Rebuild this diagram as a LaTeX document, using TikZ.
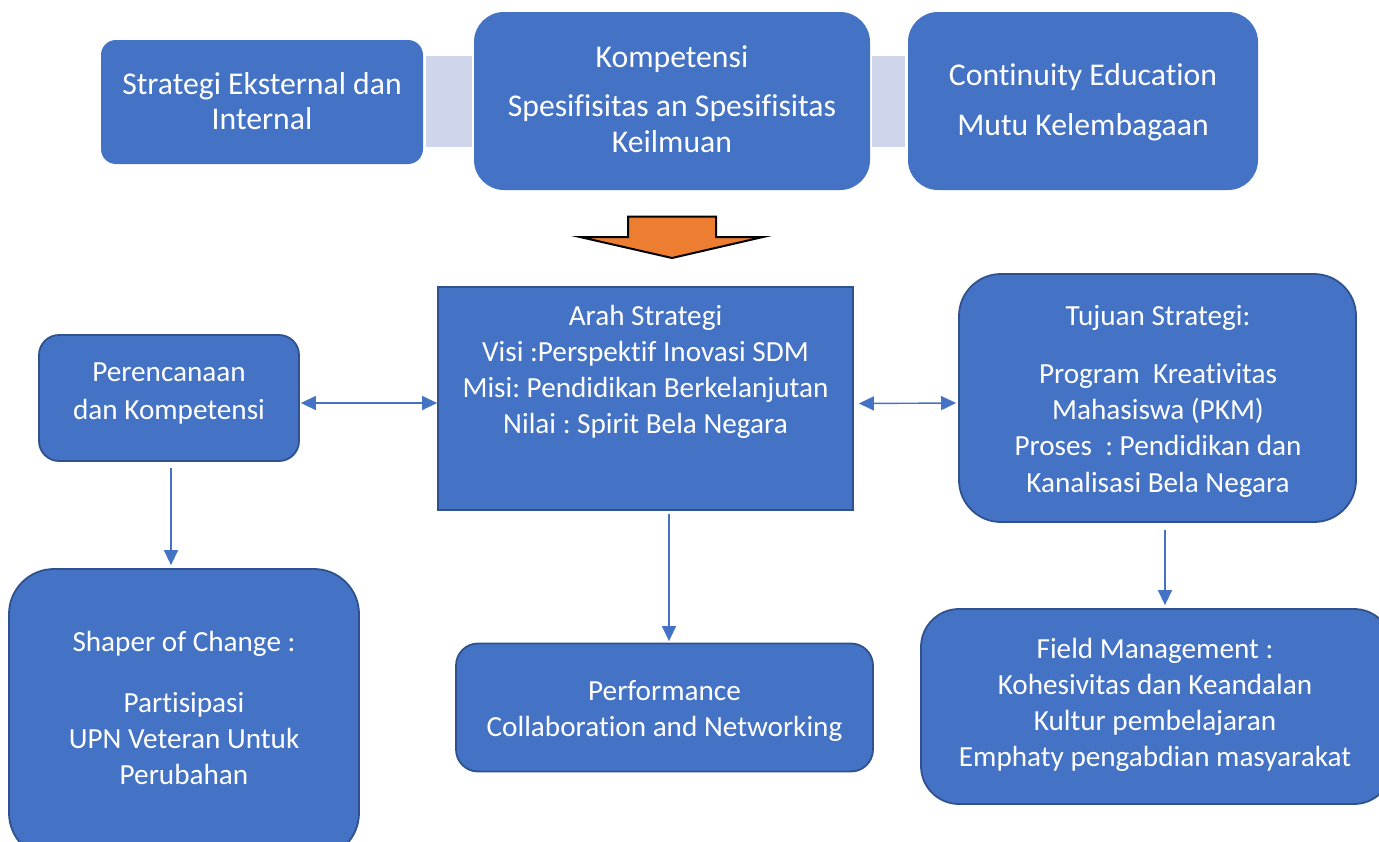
\documentclass[tikz,border=0pt]{standalone}
\usepackage{fontspec}
\setmainfont{Carlito}[Ligatures={NoCommon}]
\usetikzlibrary{arrows.meta}
\definecolor{boxblue}{HTML}{4472C4}
\definecolor{boxedge}{HTML}{2F528F}
\definecolor{linkfill}{HTML}{CFD5EA}
\definecolor{arrorange}{HTML}{ED7D31}
\newcommand\mytopfont{\fontsize{31.7}{35.3}\selectfont\frenchspacing}
\newcommand\mylowfont{\fontsize{29.2}{36.1}\selectfont\frenchspacing}
\newcommand\mystrut{\rule{0pt}{25pt}}
\begin{document}
\begin{tikzpicture}[x=1pt,y=-1pt,
  topbox/.style={draw=none, fill=boxblue, inner sep=0, rounded corners=#1},
  lowbox/.style={draw=boxedge, line width=1.8pt, fill=boxblue, inner sep=0, rounded corners=#1},
  linkbox/.style={draw=none, fill=linkfill, inner sep=0},
  txt/.style={text=white, inner sep=0, align=center, anchor=north},
  conn/.style={draw=boxblue, line width=1.4pt, -{Triangle[length=15pt,width=14pt]}},
  biconn/.style={draw=boxblue, line width=1.4pt, {Triangle[length=15pt,width=14pt]}-{Triangle[length=15pt,width=14pt]}}]
\useasboundingbox (0,0) rectangle (1379,841);
\clip (0,0) rectangle (1379,841);
\fill[white] (0,0) rectangle (1379,841);

% top row
\node[linkbox, minimum width=46pt, minimum height=91pt] (L1) at (449,101.5) {};
\node[linkbox, minimum width=33pt, minimum height=91pt] (L2) at (888.5,101.5) {};
\node[topbox=15pt, minimum width=322pt, minimum height=124pt] (A) at (262,102) {};
\node[topbox=30pt, minimum width=396pt, minimum height=178pt] (B) at (672,101) {};
\node[topbox=30pt, minimum width=350pt, minimum height=178pt] (C) at (1083,101) {};

\node[txt, font=\mytopfont] (At) at (262,69) {\mystrut Strategi Eksternal dan\\Internal};
\node[txt, font=\mytopfont] (Bt) at (672,42.4) {\mystrut Kompetensi\\[14pt]Spesifisitas an Spesifisitas\\Keilmuan};
\node[txt, font=\mytopfont] (Ct) at (1083,60.7) {\mystrut Continuity Education\\[14pt]Mutu Kelembagaan};

% orange arrow
\draw[fill=arrorange, draw=black, line width=2pt, line join=miter]
  (628,216.5) -- (716,216.5) -- (716,237) -- (763,237) -- (672,258) -- (580,237) -- (628,237) -- cycle;

% middle row
\node[lowbox=0pt, minimum width=415pt, minimum height=223pt] (D) at (645.5,398.5) {};
\node[lowbox=20pt, minimum width=260pt, minimum height=126pt] (E) at (169,398) {};
\node[lowbox=42pt, minimum width=397pt, minimum height=248pt] (F) at (1157.5,398) {};

\node[txt, font=\mylowfont] (Dt) at (645.5,300) {\mystrut Arah Strategi\\Visi :Perspektif Inovasi SDM\\Misi: Pendidikan Berkelanjutan\\Nilai : Spirit Bela Negara};
\node[txt, font=\mylowfont] (Et) at (169,356.7) {\mystrut Perencanaan\\[1.5pt]dan Kompetensi};
\node[txt, font=\mylowfont] (Ft) at (1158,300) {\mystrut Tujuan Strategi:\\[22.4pt]Program~~Kreativitas\\Mahasiswa (PKM)\\Proses~~: Pendidikan dan\\Kanalisasi Bela Negara};

% bottom row
\node[lowbox=45pt, minimum width=350pt, minimum height=289pt] (G) at (184,713.5) {};
\node[lowbox=22pt, minimum width=417pt, minimum height=128pt] (H) at (664.5,707.5) {};
\node[lowbox=38pt, minimum width=471pt, minimum height=195pt] (I) at (1156.5,706.5) {};

\node[txt, font=\mylowfont] (Gt) at (184,626.7) {\mystrut Shaper of Change :\\[24.4pt]Partisipasi\\UPN Veteran Untuk\\Perubahan};
\node[txt, font=\mylowfont] (Ht) at (664.5,675) {\mystrut Performance\\Collaboration and Networking};
\node[txt, font=\mylowfont] (It) at (1155,633) {\mystrut Field Management :\\Kohesivitas dan Keandalan\\Kultur pembelajaran\\Emphaty pengabdian masyarakat};

% connectors
\draw[biconn] ([xshift=1pt,yshift=-5pt]E.east) -- ([yshift=-4.5pt]D.west);
\draw[biconn] ([xshift=5pt,yshift=-5pt]D.east) -- ([xshift=-2pt,yshift=-5pt]F.west);
\draw[conn] ([xshift=2pt,yshift=-6pt]E.south) -- ([xshift=-13pt,yshift=3pt]G.north);
\draw[conn] ([xshift=23.5pt,yshift=-3pt]D.south) -- ([xshift=4.5pt,yshift=1.5pt]H.north);
\draw[conn] ([xshift=7.5pt,yshift=-7pt]F.south) -- ([xshift=8.5pt,yshift=3pt]I.north);
\end{tikzpicture}
\end{document}
